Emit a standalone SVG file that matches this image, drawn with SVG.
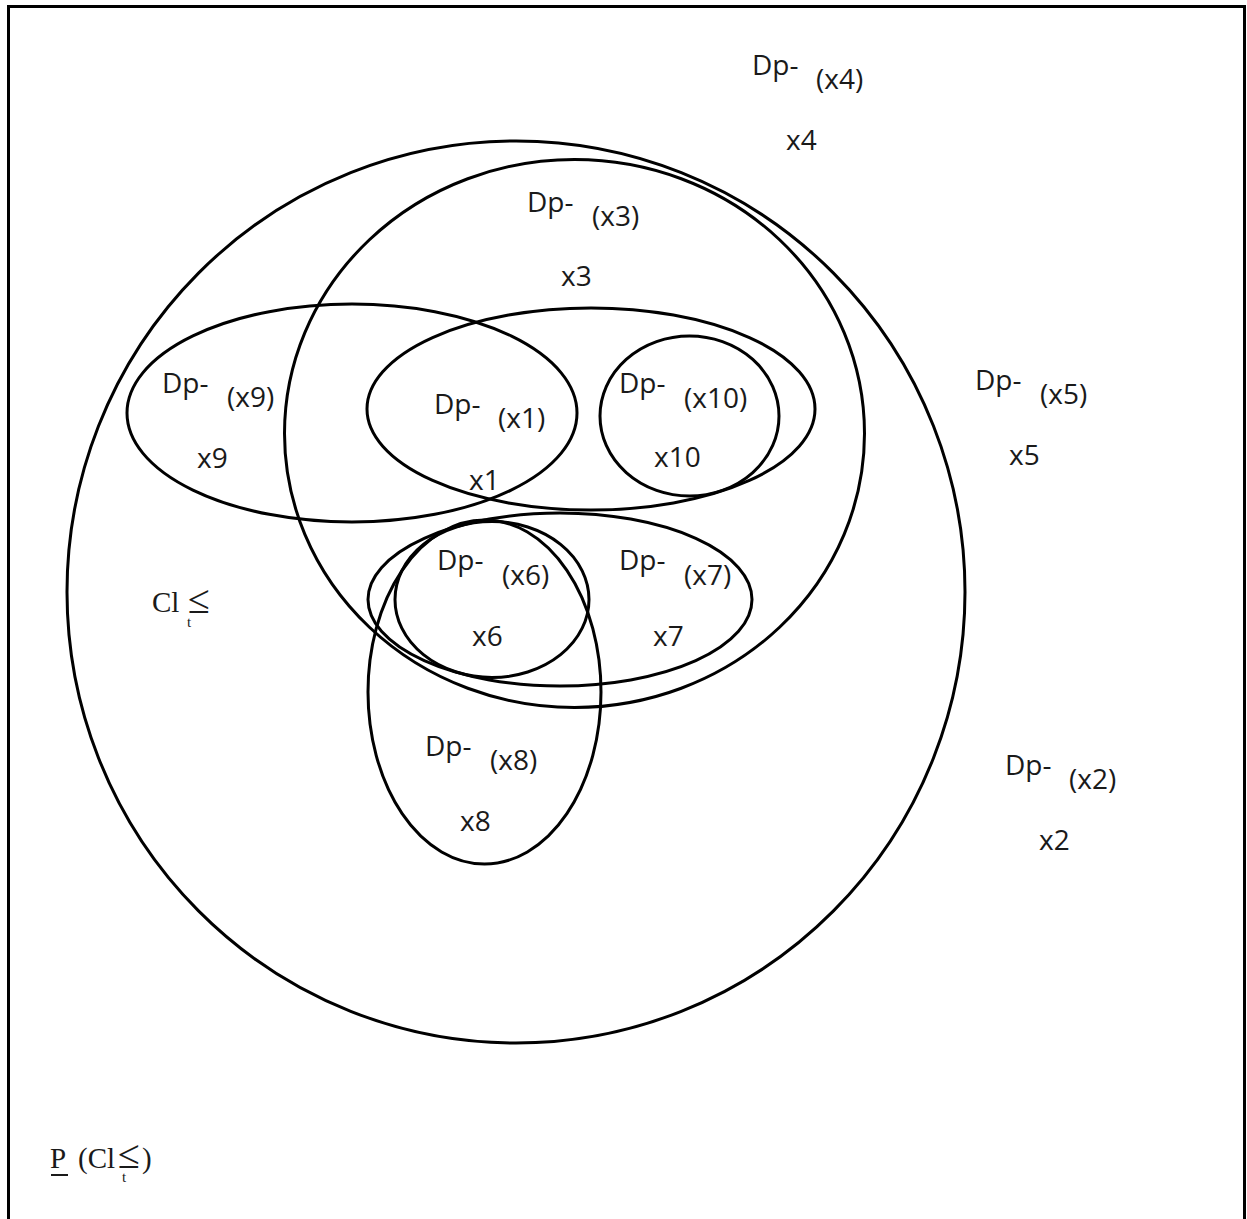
<svg xmlns="http://www.w3.org/2000/svg" width="1247" height="1219" viewBox="0 0 1247 1219">
  <style>
    .set { fill: none; stroke: #000; stroke-width: 3; }
    .lbl { font-family: "Open Sans", "Noto Sans", sans-serif; font-size: 28px; fill: #1a1a1a; }
    .math { font-family: "Liberation Serif", serif; font-size: 29px; fill: #1a1a1a; }
    .rel { font-family: "Liberation Serif", serif; font-size: 40px; fill: #1a1a1a; }
    .sub { font-family: "Liberation Serif", serif; font-size: 15px; fill: #1a1a1a; }
  </style>
  <rect x="0" y="0" width="1247" height="1219" fill="#fff"/>
  <!-- universe frame -->
  <rect id="frame" x="8.5" y="6.5" width="1236" height="1230" class="set"/>

  <g id="sets">
    <ellipse id="cl-t" cx="516" cy="592" rx="449" ry="451" class="set"/>
    <ellipse id="dp-x3" cx="574.5" cy="433.5" rx="290" ry="274" class="set"/>
    <ellipse id="dp-x9" cx="352" cy="413" rx="225" ry="109" class="set"/>
    <ellipse id="dp-x1" cx="591" cy="409" rx="224" ry="101" class="set"/>
    <ellipse id="dp-x10" cx="689.5" cy="416" rx="89.5" ry="80" class="set"/>
    <ellipse id="dp-x7" cx="560" cy="599.5" rx="192" ry="86.5" class="set"/>
    <ellipse id="dp-x6" cx="492" cy="599.5" rx="97" ry="78" class="set"/>
    <ellipse id="dp-x8" cx="484.5" cy="692" rx="116.5" ry="172" class="set"/>
  </g>

  <g id="labels">
    <g id="n-x4"><text class="lbl" x="752" y="75">Dp-</text><text class="lbl" x="816" y="89">(x4)</text><text class="lbl" x="786" y="150">x4</text></g>
    <g id="n-x3"><text class="lbl" x="527" y="212">Dp-</text><text class="lbl" x="592" y="226">(x3)</text><text class="lbl" x="561" y="286">x3</text></g>
    <g id="n-x9"><text class="lbl" x="162" y="393">Dp-</text><text class="lbl" x="227" y="407">(x9)</text><text class="lbl" x="197" y="468">x9</text></g>
    <g id="n-x1"><text class="lbl" x="434" y="414">Dp-</text><text class="lbl" x="498" y="428">(x1)</text><text class="lbl" x="469" y="490">x1</text></g>
    <g id="n-x10"><text class="lbl" x="619" y="393">Dp-</text><text class="lbl" x="684" y="408">(x10)</text><text class="lbl" x="654" y="467">x10</text></g>
    <g id="n-x5"><text class="lbl" x="975" y="390">Dp-</text><text class="lbl" x="1040" y="404">(x5)</text><text class="lbl" x="1009" y="465">x5</text></g>
    <g id="n-x6"><text class="lbl" x="437" y="570">Dp-</text><text class="lbl" x="502" y="585">(x6)</text><text class="lbl" x="472" y="646">x6</text></g>
    <g id="n-x7"><text class="lbl" x="619" y="570">Dp-</text><text class="lbl" x="684" y="585">(x7)</text><text class="lbl" x="653" y="646">x7</text></g>
    <g id="n-x8"><text class="lbl" x="425" y="756">Dp-</text><text class="lbl" x="490" y="770">(x8)</text><text class="lbl" x="460" y="831">x8</text></g>
    <g id="n-x2"><text class="lbl" x="1005" y="775">Dp-</text><text class="lbl" x="1069" y="789">(x2)</text><text class="lbl" x="1039" y="850">x2</text></g>

    <!-- downward union of classes -->
    <g id="n-cl"><text class="math" x="152" y="612">Cl</text><text class="rel" x="188" y="613">≤</text><text class="sub" x="187" y="627">t</text></g>
    <!-- lower approximation -->
    <g id="n-p">
      <text class="math" x="50" y="1168">P</text>
      <line x1="51" y1="1175" x2="68" y2="1175" stroke="#1a1a1a" stroke-width="2"/>
      <text class="math" x="78" y="1168">(Cl</text>
      <text class="rel" x="118" y="1168">≤</text>
      <text class="sub" x="122" y="1182">t</text>
      <text class="math" x="142" y="1168">)</text>
    </g>
  </g>
</svg>
